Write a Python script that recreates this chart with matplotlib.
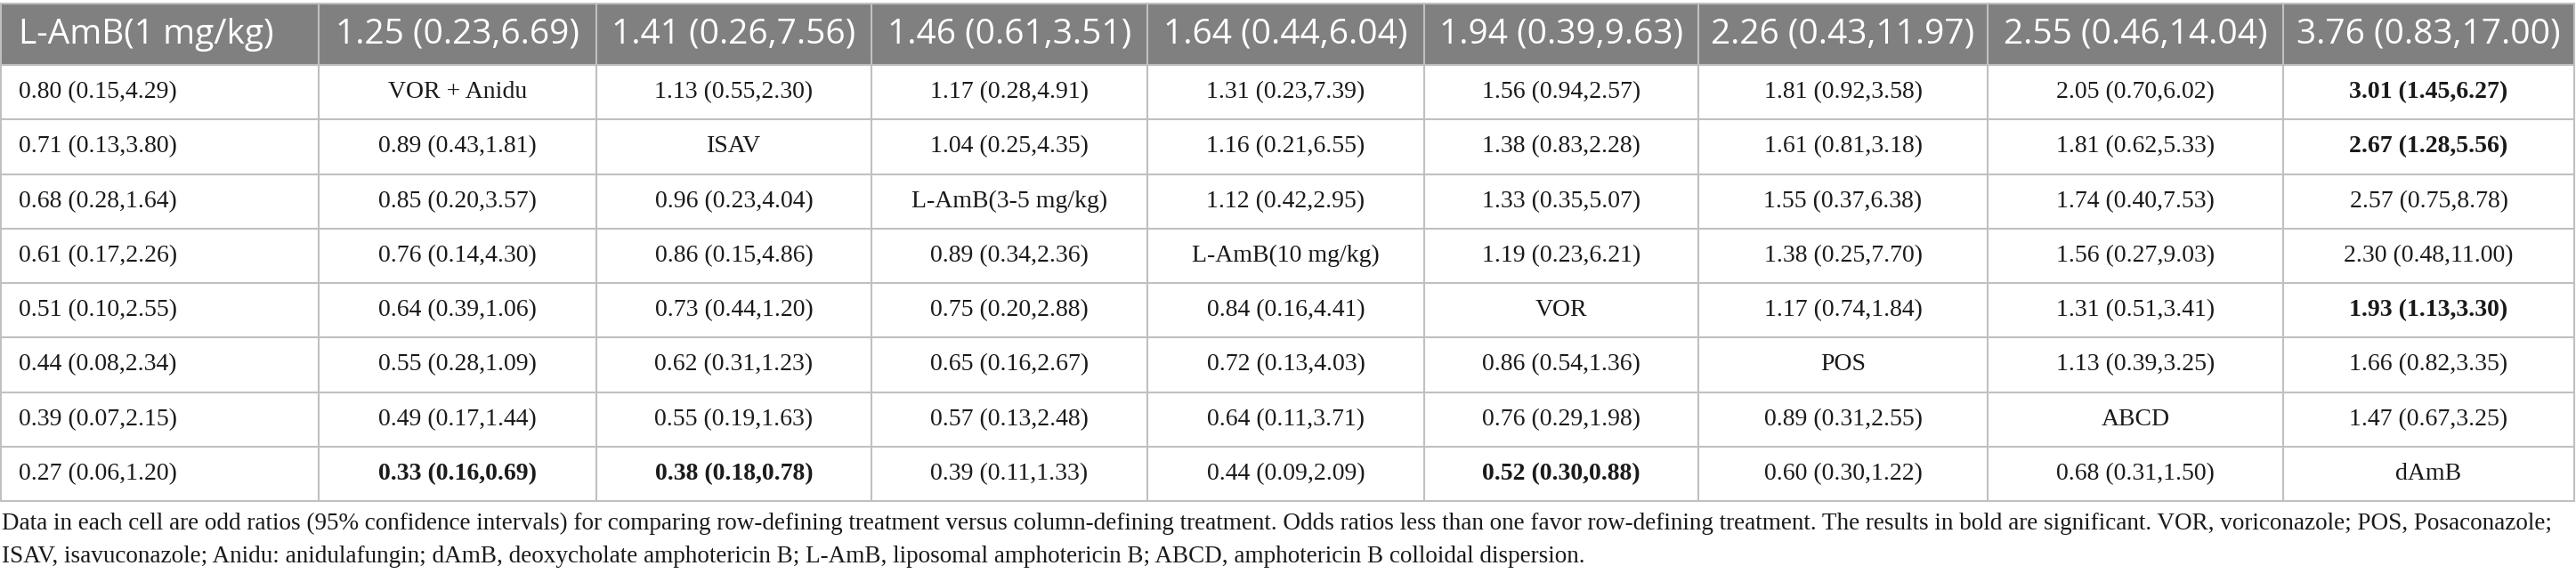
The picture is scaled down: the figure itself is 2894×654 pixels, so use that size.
import matplotlib.pyplot as plt
from matplotlib.patches import Rectangle

# ---------------- DATA ---------------- #
corner_label = "L-AmB(1 mg/kg)"
header_values = [
    "1.25 (0.23,6.69)", "1.41 (0.26,7.56)", "1.46 (0.61,3.51)", "1.64 (0.44,6.04)",
    "1.94 (0.39,9.63)", "2.26 (0.43,11.97)", "2.55 (0.46,14.04)", "3.76 (0.83,17.00)",
]
treatments = ["VOR + Anidu", "ISAV", "L-AmB(3-5 mg/kg)", "L-AmB(10 mg/kg)",
              "VOR", "POS", "ABCD", "dAmB"]
first_col = [
    "0.80 (0.15,4.29)", "0.71 (0.13,3.80)", "0.68 (0.28,1.64)", "0.61 (0.17,2.26)",
    "0.51 (0.10,2.55)", "0.44 (0.08,2.34)", "0.39 (0.07,2.15)", "0.27 (0.06,1.20)",
]
# lower triangle (row i, columns 0..i-1 of the treatment columns)
lower = [
    [],
    ["0.89 (0.43,1.81)"],
    ["0.85 (0.20,3.57)", "0.96 (0.23,4.04)"],
    ["0.76 (0.14,4.30)", "0.86 (0.15,4.86)", "0.89 (0.34,2.36)"],
    ["0.64 (0.39,1.06)", "0.73 (0.44,1.20)", "0.75 (0.20,2.88)", "0.84 (0.16,4.41)"],
    ["0.55 (0.28,1.09)", "0.62 (0.31,1.23)", "0.65 (0.16,2.67)", "0.72 (0.13,4.03)",
     "0.86 (0.54,1.36)"],
    ["0.49 (0.17,1.44)", "0.55 (0.19,1.63)", "0.57 (0.13,2.48)", "0.64 (0.11,3.71)",
     "0.76 (0.29,1.98)", "0.89 (0.31,2.55)"],
    ["0.33 (0.16,0.69)", "0.38 (0.18,0.78)", "0.39 (0.11,1.33)", "0.44 (0.09,2.09)",
     "0.52 (0.30,0.88)", "0.60 (0.30,1.22)", "0.68 (0.31,1.50)"],
]
# upper triangle (row i, columns i+1..7)
upper = [
    ["1.13 (0.55,2.30)", "1.17 (0.28,4.91)", "1.31 (0.23,7.39)", "1.56 (0.94,2.57)",
     "1.81 (0.92,3.58)", "2.05 (0.70,6.02)", "3.01 (1.45,6.27)"],
    ["1.04 (0.25,4.35)", "1.16 (0.21,6.55)", "1.38 (0.83,2.28)", "1.61 (0.81,3.18)",
     "1.81 (0.62,5.33)", "2.67 (1.28,5.56)"],
    ["1.12 (0.42,2.95)", "1.33 (0.35,5.07)", "1.55 (0.37,6.38)", "1.74 (0.40,7.53)",
     "2.57 (0.75,8.78)"],
    ["1.19 (0.23,6.21)", "1.38 (0.25,7.70)", "1.56 (0.27,9.03)", "2.30 (0.48,11.00)"],
    ["1.17 (0.74,1.84)", "1.31 (0.51,3.41)", "1.93 (1.13,3.30)"],
    ["1.13 (0.39,3.25)", "1.66 (0.82,3.35)"],
    ["1.47 (0.67,3.25)"],
    [],
]
# significant cells (row, table column)
bold_cells = [(0, 8), (1, 8), (4, 8), (7, 1), (7, 2), (7, 5)]

footnote = [
    "Data in each cell are odd ratios (95% confidence intervals) for comparing row-defining "
    "treatment versus column-defining treatment. Odds ratios less than one favor row-defining "
    "treatment. The results in bold are significant. VOR, voriconazole; POS, Posaconazole;",
    "ISAV, isavuconazole; Anidu: anidulafungin; dAmB, deoxycholate amphotericin B; L-AmB, "
    "liposomal amphotericin B; ABCD, amphotericin B colloidal dispersion.",
]

# ---------------- LAYOUT ---------------- #
W, H = 2894, 654
col_edges = [1, 358, 670, 979, 1289, 1600, 1908, 2233, 2565, 2892]
header_top, header_bot = 4, 73
row_h = (563 - header_bot) / 8
header_color = "#808080"
line_color = "#c0c0c0"
serif = "Liberation Serif"
sans = "Open Sans"
header_fs = 28
body_fs = 20

# build full cell grid
cells = []
for i in range(8):
    row = [first_col[i]] + lower[i] + [treatments[i]] + upper[i]
    cells.append(row)

fig = plt.figure(figsize=(W / 100, H / 100), dpi=100)
ax = fig.add_axes([0, 0, 1, 1])
ax.set_xlim(0, W)
ax.set_ylim(H, 0)
ax.axis("off")

# header band
ax.add_patch(Rectangle((col_edges[0], header_top), col_edges[-1] - col_edges[0],
                       header_bot - header_top, facecolor=header_color, edgecolor="none"))

labels = [corner_label] + header_values
for j, lab in enumerate(labels):
    yc = (header_top + header_bot) / 2
    if j == 0:
        ax.text(col_edges[0] + 20, yc, lab, ha="left", va="center", color="white",
                fontsize=header_fs, family=sans)
    else:
        ax.text((col_edges[j] + col_edges[j + 1]) / 2, yc, lab, ha="center", va="center",
                color="white", fontsize=header_fs, family=sans)

for i, row in enumerate(cells):
    yc = header_bot + (i + 0.5) * row_h
    for j, val in enumerate(row):
        weight = "bold" if (i, j) in bold_cells else "normal"
        if j == 0:
            ax.text(col_edges[0] + 20, yc, val, ha="left", va="center", color="#1a1a1a",
                    fontsize=body_fs, family=serif, fontweight=weight)
        else:
            ax.text((col_edges[j] + col_edges[j + 1]) / 2, yc, val, ha="center",
                    va="center", color="#1a1a1a", fontsize=body_fs, family=serif,
                    fontweight=weight)

# grid lines
for k in range(9):
    y = header_bot + k * row_h
    ax.plot([col_edges[0], col_edges[-1]], [y, y], color=line_color, lw=1.5)
ax.plot([col_edges[0], col_edges[-1]], [header_top, header_top], color=line_color, lw=1.5)
for x in col_edges:
    ax.plot([x, x], [header_top, header_bot + 8 * row_h], color=line_color, lw=1.5)

# footnote
for k, line in enumerate(footnote):
    ax.text(2, 588 + k * 37, line, ha="left", va="center", color="#1a1a1a",
            fontsize=19.5, family=serif)

fig.savefig("out.png", dpi=100)
